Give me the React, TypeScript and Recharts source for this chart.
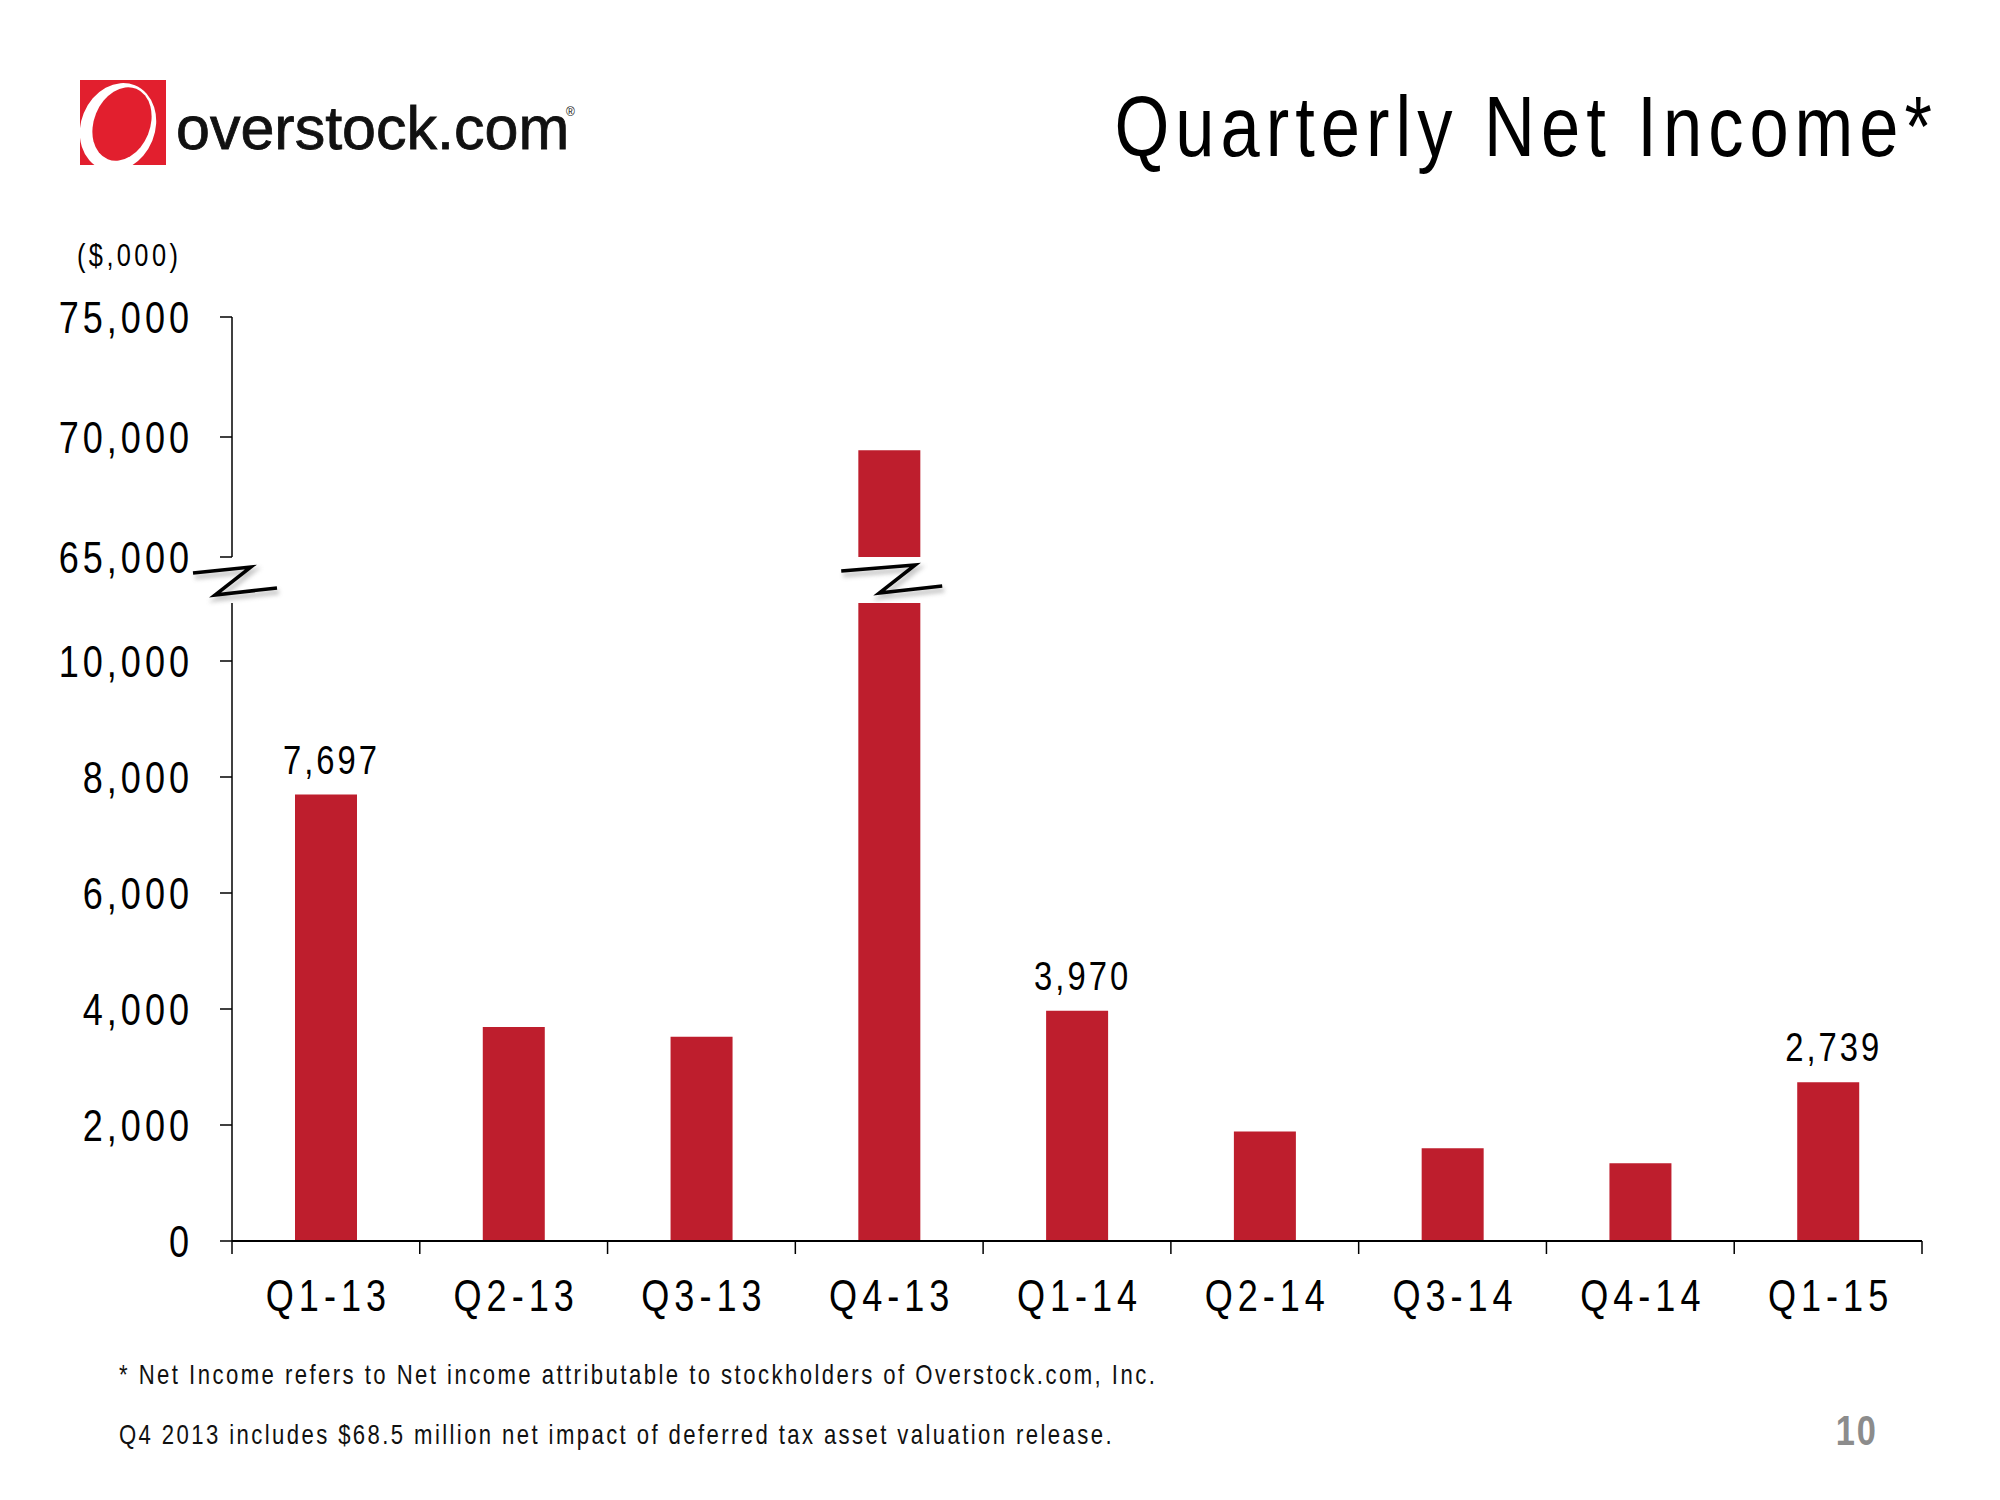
import { BarChart, Bar, XAxis, YAxis, LabelList } from "recharts";

const quarters = ["Q1-13", "Q2-13", "Q3-13", "Q4-13", "Q1-14", "Q2-14", "Q3-14", "Q4-14", "Q1-15"];
const netIncome = [7697, 3690, 3520, 69450, 3970, 1890, 1600, 1340, 2739];
const labelled = ["Q1-13", "Q1-14", "Q1-15"];
const lowerTicks = [0, 2000, 4000, 6000, 8000, 10000];
const upperTicks = [65000, 70000, 75000];
const lowerMax = 11000;
const upperMin = 65000;
const upperMax = 75000;

const fmt = (v: number) => v.toLocaleString("en-US");

const lowerData = quarters.map((q, i) => ({
  name: q,
  value: Math.min(netIncome[i], lowerMax),
  label: labelled.includes(q) ? fmt(netIncome[i]) : "",
}));
const upperData = quarters.map((q, i) => ({
  name: q,
  value: netIncome[i] >= upperMin ? netIncome[i] : null,
}));

const FONT = '"Liberation Sans", Arial, sans-serif';
const SQUEEZE = 0.82; // no narrow font installed, so squeeze Liberation Sans
const BAR = "#BE1E2D";
const PLOT_LEFT = 232;
const PLOT_RIGHT = 1922;
const BAND = (PLOT_RIGHT - PLOT_LEFT) / quarters.length;

interface NTextProps {
  x: number;
  y: number;
  size: number;
  spacing?: number;
  anchor?: "start" | "middle" | "end";
  fill?: string;
  weight?: string;
  children: React.ReactNode;
}

// narrow text: x/y is the anchor point, spacing is in page pixels
const NText = ({ x, y, size, spacing = 0, anchor = "start", fill = "#000", weight, children }: NTextProps) => (
  <text
    transform={`translate(${x} ${y}) scale(${SQUEEZE} 1)`}
    x={anchor === "end" ? spacing / SQUEEZE : anchor === "middle" ? spacing / SQUEEZE / 2 : 0}
    y={0}
    textAnchor={anchor}
    fontSize={size}
    fontFamily={FONT}
    fontWeight={weight}
    fill={fill}
    style={{ letterSpacing: spacing / SQUEEZE }}
  >
    {children}
  </text>
);

const YTick = ({ x, y, payload }: any) => (
  <NText x={x} y={y + 16} size={44} spacing={4} anchor="end">
    {fmt(payload.value)}
  </NText>
);

const XTick = ({ x, y, payload, index }: any) => (
  <g>
    <line x1={x - BAND / 2} x2={x - BAND / 2} y1={y} y2={y + 13} stroke="#000" strokeWidth={1.5} />
    {index === quarters.length - 1 && (
      <line x1={x + BAND / 2} x2={x + BAND / 2} y1={y} y2={y + 13} stroke="#000" strokeWidth={1.5} />
    )}
    <NText x={x} y={y + 70} size={44} spacing={5} anchor="middle">
      {payload.value}
    </NText>
  </g>
);

const ValueLabel = ({ x, y, width, value }: any) =>
  value ? (
    <NText x={x + width / 2 + 4} y={y - 21} size={40} spacing={3} anchor="middle">
      {value}
    </NText>
  ) : null;

const BreakMark = ({ d }: { d: string }) => (
  <g>
    <path d={d} fill="none" stroke="#888" strokeWidth={5} opacity={0.45} transform="translate(2,4)" filter="url(#blur)" />
    <path d={d} fill="none" stroke="#000" strokeWidth={3.5} strokeLinejoin="miter" />
  </g>
);

export default function App() {
  const ax = PLOT_LEFT;
  const q4 = PLOT_LEFT + BAND * 3.5;
  return (
    <div style={{ position: "relative", width: 2000, height: 1500, margin: -8, background: "#fff", overflow: "hidden" }}>
      <div style={{ position: "absolute", left: 0, top: 0 }}>
        <BarChart width={2000} height={600} data={upperData} margin={{ top: 317, right: 78, bottom: 43, left: 132 }}>
          <XAxis dataKey="name" hide height={0} />
          <YAxis
            width={100}
            domain={[upperMin, upperMax]}
            ticks={upperTicks}
            allowDataOverflow
            tickSize={12}
            tickMargin={31}
            axisLine={{ stroke: "#000", strokeWidth: 1.5 }}
            tickLine={{ stroke: "#000", strokeWidth: 1.5 }}
            tick={<YTick />}
          />
          <Bar dataKey="value" fill={BAR} barSize={62} isAnimationActive={false} />
        </BarChart>
      </div>
      <div style={{ position: "absolute", left: 0, top: 0 }}>
        <BarChart width={2000} height={1340} data={lowerData} margin={{ top: 603, right: 78, bottom: 39, left: 132 }}>
          <XAxis
            dataKey="name"
            height={60}
            tickSize={0}
            tickMargin={0}
            tickLine={false}
            axisLine={{ stroke: "#000", strokeWidth: 2 }}
            tick={<XTick />}
            interval={0}
          />
          <YAxis
            width={100}
            domain={[0, lowerMax]}
            ticks={lowerTicks}
            allowDataOverflow
            tickSize={12}
            tickMargin={31}
            axisLine={{ stroke: "#000", strokeWidth: 1.5 }}
            tickLine={{ stroke: "#000", strokeWidth: 1.5 }}
            tick={<YTick />}
          />
          <Bar dataKey="value" fill={BAR} barSize={62} isAnimationActive={false}>
            <LabelList dataKey="label" content={<ValueLabel />} />
          </Bar>
        </BarChart>
      </div>
      <svg width={2000} height={1500} style={{ position: "absolute", left: 0, top: 0, pointerEvents: "none" }}>
        <defs>
          <filter id="blur" x="-20%" y="-50%" width="140%" height="200%">
            <feGaussianBlur stdDeviation={2} />
          </filter>
          <clipPath id="logoClip">
            <rect x={80} y={80} width={86} height={85} />
          </clipPath>
        </defs>
        {/* logo */}
        <rect x={80} y={80} width={86} height={85} fill="#E21F2E" />
        <g clipPath="url(#logoClip)">
          <ellipse cx={118} cy={127} rx={37} ry={45} fill="#fff" transform="rotate(22 118 127)" />
          <ellipse cx={122} cy={124} rx={28} ry={38} fill="#E21F2E" transform="rotate(22 122 124)" />
        </g>
        <text x={176} y={149} fontSize={61} fontFamily={FONT} fill="#111" stroke="#111" strokeWidth={0.8}>
          overstock.com
        </text>
        <text x={566} y={116} fontSize={12} fontFamily={FONT} fill="#111">
          ®
        </text>
        {/* title */}
        <NText x={1932} y={156} size={86} spacing={6} anchor="end">
          Quarterly Net Income*
        </NText>
        <NText x={77} y={266} size={31} spacing={3.4}>
          ($,000)
        </NText>
        <BreakMark d={`M${ax - 39} 573 L${ax + 19} 567 L${ax - 17} 595 L${ax + 45} 588`} />
        <BreakMark d={`M${q4 - 48} 571 L${q4 + 26} 565 L${q4 - 10} 593 L${q4 + 53} 586`} />
        <NText x={119} y={1384} size={27} spacing={2.45} fill="#111">
          * Net Income refers to Net income attributable to stockholders of Overstock.com, Inc.
        </NText>
        <NText x={119} y={1444} size={27} spacing={2.4} fill="#111">
          Q4 2013 includes $68.5 million net impact of deferred tax asset valuation release.
        </NText>
        <NText x={1876} y={1445} size={42} spacing={2} anchor="end" weight="bold" fill="#8C8C8C">
          10
        </NText>
      </svg>
    </div>
  );
}
